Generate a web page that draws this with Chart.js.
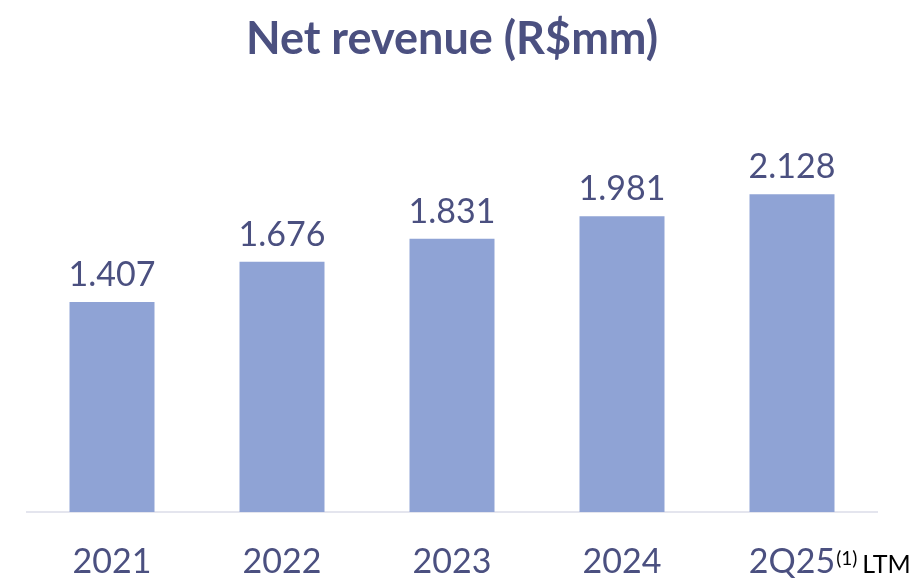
<!DOCTYPE html>
<html>
<head>
<meta charset="utf-8">
<script src="https://cdn.jsdelivr.net/npm/chart.js@4.4.1/dist/chart.umd.min.js"></script>
<style>
  html, body { margin: 0; padding: 0; background: #ffffff; }
  #wrap { width: 913px; height: 578px; }
</style>
</head>
<body>
<div id="wrap"><canvas id="revenueChart" width="913" height="578"></canvas></div>
<script>
// Data
const periods = ['2021', '2022', '2023', '2024', '2Q25'];
const periodNotes = ['', '', '', '', '(1)'];
const periodSuffix = ['', '', '', '', 'LTM'];
const netRevenue = [1407, 1676, 1831, 1981, 2128];
const valueLabels = ['1.407', '1.676', '1.831', '1.981', '2.128'];

const FONT = 'Lato, "Open Sans", sans-serif';
const INK = '#4B5080';
const BAR = '#8FA3D5';

// Value labels above each bar
const valueLabelPlugin = {
    id: 'valueLabels',
    afterDatasetsDraw(chart) {
        const ctx = chart.ctx;
        const meta = chart.getDatasetMeta(0);
        ctx.save();
        ctx.font = `34px ${FONT}`;
        ctx.fillStyle = INK;
        ctx.textAlign = 'center';
        ctx.textBaseline = 'bottom';
        meta.data.forEach((bar, i) => {
            ctx.fillText(valueLabels[i], bar.x, bar.y - 10);
        });
        ctx.restore();
    }
};

// Category labels under the axis, with footnote marker and suffix
const periodLabelPlugin = {
    id: 'periodLabels',
    afterDraw(chart) {
        const ctx = chart.ctx;
        const xScale = chart.scales.x;
        const y = 562;
        ctx.save();
        ctx.textBaseline = 'middle';
        periods.forEach((p, i) => {
            const cx = xScale.getPixelForValue(i);
            ctx.font = `34px ${FONT}`;
            ctx.fillStyle = INK;
            ctx.textAlign = 'center';
            ctx.fillText(p, cx, y);
            let x = cx + ctx.measureText(p).width / 2 + 1;
            ctx.textAlign = 'left';
            if (periodNotes[i]) {
                ctx.font = `19px ${FONT}`;
                ctx.fillStyle = '#000000';
                ctx.fillText(periodNotes[i], x, y - 3);
                x += ctx.measureText(periodNotes[i]).width + 5;
            }
            if (periodSuffix[i]) {
                ctx.font = `25px ${FONT}`;
                ctx.fillStyle = '#000000';
                ctx.fillText(periodSuffix[i], x, y + 3);
            }
        });
        ctx.restore();
    }
};

const ctx = document.getElementById('revenueChart').getContext('2d');
new Chart(ctx, {
    type: 'bar',
    data: {
        labels: periods,
        datasets: [{
            data: netRevenue,
            backgroundColor: BAR,
            borderWidth: 0,
            barPercentage: 0.5,
            categoryPercentage: 1
        }]
    },
    options: {
        responsive: false,
        animation: false,
        layout: { padding: { left: 27, right: 36, bottom: 58 } },
        scales: {
            x: {
                grid: { display: false },
                border: { display: true, color: '#E4E5EE', width: 2 },
                ticks: { display: false }
            },
            y: {
                display: false,
                min: 0,
                max: 2800
            }
        },
        plugins: {
            legend: { display: false },
            tooltip: { enabled: false },
            title: {
                display: true,
                text: 'Net revenue (R$mm)',
                color: INK,
                font: { family: FONT, size: 45, weight: 'bold' },
                padding: { top: 12, bottom: 28 }
            }
        }
    },
    plugins: [valueLabelPlugin, periodLabelPlugin]
});
</script>
</body>
</html>
